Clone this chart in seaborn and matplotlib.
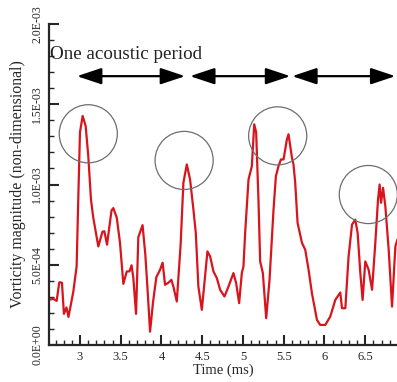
import numpy as np
import pandas as pd
import matplotlib
matplotlib.use("Agg")
import matplotlib.pyplot as plt
import seaborn as sns

# time (ms) and vorticity magnitude (x1e-3)
time_ms = [2.611, 2.672, 2.714, 2.746, 2.779, 2.803, 2.834, 2.859, 2.918, 2.959,
           2.979, 3.000, 3.033, 3.070, 3.102, 3.135, 3.163, 3.225, 3.276, 3.299,
           3.332, 3.387, 3.409, 3.451, 3.491, 3.532, 3.574, 3.608, 3.633, 3.655,
           3.688, 3.716, 3.768, 3.802, 3.827, 3.860, 3.897, 3.937, 3.983, 4.014,
           4.044, 4.085, 4.122, 4.146, 4.188, 4.235, 4.269, 4.311, 4.351, 4.392,
           4.421, 4.453, 4.495, 4.527, 4.564, 4.597, 4.638, 4.679, 4.720, 4.773,
           4.822, 4.883, 4.916, 4.953, 4.986, 5.006, 5.027, 5.068, 5.109, 5.138,
           5.162, 5.190, 5.211, 5.244, 5.285, 5.326, 5.375, 5.404, 5.436, 5.466,
           5.498, 5.539, 5.559, 5.601, 5.620, 5.641, 5.670, 5.724, 5.764, 5.805,
           5.846, 5.908, 5.948, 6.010, 6.071, 6.133, 6.194, 6.215, 6.256, 6.296,
           6.338, 6.378, 6.407, 6.440, 6.468, 6.501, 6.542, 6.584, 6.624, 6.657,
           6.677, 6.694, 6.719, 6.747, 6.788, 6.829, 6.870, 6.894]
vort_e3 = [0.281, 0.288, 0.275, 0.391, 0.388, 0.194, 0.234, 0.175, 0.331, 0.489,
           0.906, 1.325, 1.427, 1.364, 1.177, 0.906, 0.794, 0.614, 0.706, 0.709,
           0.625, 0.838, 0.853, 0.794, 0.638, 0.381, 0.458, 0.459, 0.497, 0.416,
           0.194, 0.672, 0.747, 0.563, 0.364, 0.083, 0.269, 0.422, 0.469, 0.513,
           0.375, 0.388, 0.406, 0.364, 0.271, 0.625, 1.011, 1.125, 1.031, 0.844,
           0.700, 0.364, 0.219, 0.386, 0.583, 0.552, 0.458, 0.417, 0.344, 0.302,
           0.364, 0.448, 0.386, 0.261, 0.448, 0.489, 0.700, 1.031, 1.114, 1.375,
           1.325, 0.906, 0.521, 0.448, 0.167, 0.406, 0.844, 1.052, 1.114, 1.156,
           1.156, 1.281, 1.313, 1.167, 1.125, 1.011, 0.761, 0.636, 0.594, 0.469,
           0.323, 0.156, 0.125, 0.125, 0.177, 0.281, 0.327, 0.229, 0.229, 0.552,
           0.750, 0.781, 0.698, 0.448, 0.281, 0.521, 0.469, 0.344, 0.636, 0.906,
           1.000, 0.886, 0.979, 0.864, 0.594, 0.239, 0.614, 0.656]

# circled peaks (centre time, centre value x1e-3)
circle_t = [3.102, 4.278, 5.426, 6.538]
circle_v = [1.316, 1.150, 1.303, 0.9375]

# acoustic period arrows (start, end) in ms
arrow_start = [2.963, 4.351, 5.604]
arrow_end = [4.290, 5.580, 6.870]
arrow_level = 1.675e-3

xticks = [3, 3.5, 4, 4.5, 5, 5.5, 6, 6.5]
xticklabels = ["3", "3.5", "4", "4.5", "5", "5.5", "6", "6.5"]
yticks = [0, 5e-4, 1e-3, 1.5e-3, 2e-3]
yticklabels = ["0.0E+00", "5.0E-04", "1.0E-03", "1.5E-03", "2.0E-03"]

sns.set_style("ticks")
plt.rcParams['font.family'] = ['Liberation Serif', 'DejaVu Serif']

df = pd.DataFrame({"t": time_ms, "w": np.array(vort_e3) * 1e-3})

fig = plt.figure(figsize=(3.97, 3.82), dpi=100)
ax = fig.add_axes([49 / 397, 37 / 382, 348 / 397, 321 / 382])

sns.lineplot(data=df, x="t", y="w", ax=ax, color="#d9141c", lw=1.6,
             estimator=None, sort=False)

ax.scatter(circle_t, np.array(circle_v) * 1e-3, s=1750, facecolors="none",
           edgecolors="#6e6e6e", linewidths=0.9, zorder=3)

for a, b in zip(arrow_start, arrow_end):
    ax.annotate("", xy=(b, arrow_level), xytext=(a, arrow_level),
                arrowprops=dict(arrowstyle="<|-|>,head_length=1.5,head_width=0.5",
                                color="black", lw=1.6, shrinkA=0, shrinkB=0))

ax.text(2.63, 1.8125e-3, "One acoustic period", fontsize=13.7, va="center",
        ha="left", color="#222222")

ax.set_xlim(2.62, 6.89)
ax.set_ylim(0, 2e-3)
ax.set_xticks(xticks)
ax.set_xticklabels(xticklabels, fontsize=9)
ax.set_xticks(np.arange(2.7, 6.9, 0.1), minor=True)
ax.set_yticks(yticks)
ax.set_yticklabels(yticklabels, fontsize=8.5, rotation=90, va="center")
ax.set_yticks(np.arange(0, 2.0001e-3, 1e-4), minor=True)

ax.tick_params(which="major", direction="in", length=7, width=1.5, pad=4)
ax.tick_params(which="minor", direction="in", length=3.5, width=1)
for side in ["left", "bottom"]:
    ax.spines[side].set_linewidth(1.6)
for side in ["top", "right"]:
    ax.spines[side].set_visible(False)

ax.set_xlabel("Time (ms)", fontsize=10.5, labelpad=1)
ax.set_ylabel("Vorticity magnitude (non-dimensional)", fontsize=11.4, labelpad=4)

fig.savefig("out.png", dpi=100)
